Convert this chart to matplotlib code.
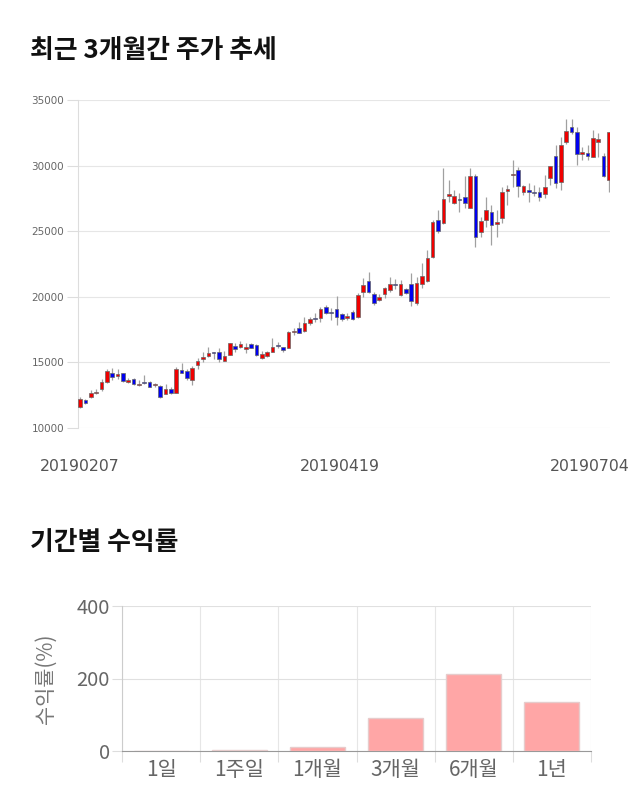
import matplotlib
matplotlib.use('Agg')
import matplotlib.pyplot as plt
import numpy as np

plt.rcParams['font.family'] = ['Noto Sans CJK KR', 'DejaVu Sans']

# ---- candlestick data (KRW) ----
opens = [11620, 12130, 12390, 12670, 12950, 13510, 14220, 13960, 14170, 13480,
         13740, 13260, 13530, 13480, 13260, 13220, 12590, 12970, 12650, 14420,
         14350, 13660, 14800, 15260, 15490, 15820, 15770, 15130, 15560, 16250,
         16150, 16000, 16380, 16330, 15360, 15510, 15770, 16330, 16150, 16080,
         17320, 17600, 17420, 17980, 18410, 18410, 19250, 18820, 19050, 18670,
         18360, 18820, 18440, 20340, 21200, 20190, 19760, 20190, 20520, 20950,
         20140, 20600, 20980, 19550, 20980, 21230, 23060, 25850, 25600, 27710,
         27170, 27460, 27630, 26790, 29230, 24960, 25850, 26490, 25530, 25980,
         28090, 29300, 29670, 28010, 28140, 28010, 27970, 27810, 29080, 30760,
         28730, 31820, 32920, 32540, 30860, 30940, 30630, 31820, 30730, 28900]
closes = [12210, 11930, 12650, 12700, 13510, 14370, 13910, 14090, 13610, 13660,
          13350, 13380, 13410, 13150, 13290, 12340, 12970, 12650, 14470, 14220,
          13790, 14550, 15130, 15390, 15740, 15690, 15240, 15490, 16460, 16000,
          16380, 16170, 16120, 15560, 15620, 15770, 16150, 16270, 15950, 17290,
          17360, 17260, 17980, 18290, 18330, 19050, 18790, 18740, 18440, 18290,
          18540, 18310, 20140, 20900, 20390, 19550, 20010, 20650, 20950, 20900,
          20980, 20310, 19700, 21080, 21610, 22980, 25720, 25040, 27430, 27840,
          27680, 27410, 27170, 29230, 24540, 25780, 26620, 25470, 25720, 28010,
          28190, 29350, 28450, 28450, 28010, 27910, 27580, 28390, 29970, 28650,
          31570, 32640, 32580, 30860, 31010, 30730, 32130, 32010, 29230, 32580]
highs = [12360, 12190, 12900, 12950, 13710, 14470, 14550, 14470, 14220, 13830,
         13810, 13660, 14040, 13560, 13450, 13280, 13350, 13100, 14670, 14930,
         14500, 14730, 15310, 15820, 16200, 15830, 16080, 15870, 16480, 16500,
         16650, 16460, 16460, 16400, 15870, 15870, 16840, 16530, 16200, 17370,
         17600, 18100, 18480, 18480, 18740, 19250, 19380, 19150, 20080, 18740,
         18740, 18990, 20290, 21460, 21910, 20370, 20210, 20750, 21530, 21330,
         21280, 20670, 21790, 21490, 22550, 23570, 25850, 26620, 29800, 28900,
         28140, 27890, 29210, 29800, 29340, 26110, 27580, 27000, 26620, 28390,
         28520, 30430, 29870, 28520, 28700, 28520, 28390, 29280, 29970, 31570,
         32200, 33520, 33520, 32970, 31440, 31570, 32710, 32460, 30940, 32580]
lows = [11520, 11830, 12260, 12570, 12840, 13410, 13660, 13710, 13530, 13450,
        13280, 13200, 13350, 13100, 13150, 12310, 12570, 12570, 12650, 14170,
        13660, 13280, 14470, 15050, 15440, 15250, 15050, 15110, 15540, 15820,
        16080, 15740, 16080, 15490, 15240, 15440, 15770, 16080, 15770, 16080,
        17090, 17220, 17340, 17850, 18080, 18100, 18690, 18230, 17850, 18130,
        18230, 18230, 18360, 20010, 20270, 19380, 19680, 19900, 20390, 20570,
        20060, 20180, 19320, 19380, 20690, 21150, 22920, 24890, 25550, 27250,
        27070, 26440, 26750, 26770, 23770, 24540, 25340, 23950, 24580, 25630,
        27000, 28390, 27580, 27760, 27250, 27680, 27330, 27510, 28520, 28270,
        28140, 31650, 32410, 30050, 30430, 30430, 30630, 30630, 29150, 28010]
date_labels = ['20190207', '20190419', '20190704']
date_label_pos = [0, 48.6, 95.4]
price_ticks = [10000, 15000, 20000, 25000, 30000, 35000]

# ---- period returns (%) ----
periods = ['1일', '1주일', '1개월', '3개월', '6개월', '1년']
returns = [0.0, 1.5, 11.0, 89.7, 211.4, 135.5]

fig = plt.figure(figsize=(6.4, 8.1), dpi=100)

# ---------- titles ----------
fig.text(30/640, 1-50/810, '최근 3개월간 주가 추세', fontsize=18.6, fontweight='bold',
         va='center', ha='left', color='#111111')
fig.text(30/640, 1-543/810, '기간별 수익률', fontsize=18.6, fontweight='bold',
         va='center', ha='left', color='#111111')

# ---------- candlestick ----------
ax1 = fig.add_axes([78/640, 1-428/810, 532/640, 328/810])
o = np.array(opens, float); c = np.array(closes, float)
h = np.maximum(np.array(highs, float), np.maximum(o, c))
l = np.minimum(np.array(lows, float), np.minimum(o, c))
x = np.arange(len(o))
up = c >= o
ax1.vlines(x, l, h, color='#a0a0a0', linewidth=0.9, zorder=2)
bottom = np.minimum(o, c)
height = np.maximum(np.abs(c - o), 70)
colors = np.where(up, '#f00000', '#0000f0')
ax1.bar(x, height, bottom=bottom, width=0.68, color=colors,
        edgecolor='#666666', linewidth=0.5, zorder=3)
ax1.set_xlim(-0.4, 99.2)
ax1.set_ylim(10000, 35000)
ax1.set_yticks(price_ticks)
ax1.set_yticklabels([str(t) for t in price_ticks], fontsize=7.5, color='#666666',
                    family=['DejaVu Sans'])
ax1.tick_params(axis='y', length=8, color='#dddddd', width=0.8, pad=2)
ax1.set_xticks(date_label_pos)
ax1.set_xticklabels(date_labels, fontsize=11.3, color='#555555', family=['DejaVu Sans'])
ax1.tick_params(axis='x', length=0, pad=22)
ax1.grid(axis='y', color='#e6e6e6', linewidth=0.8, zorder=0)
for s in ['top', 'right', 'bottom']:
    ax1.spines[s].set_visible(False)
ax1.spines['left'].set_color('#dddddd')
ax1.spines['left'].set_linewidth(0.8)
ax1.set_axisbelow(True)

# ---------- returns bar chart ----------
ax2 = fig.add_axes([122.4/640, 1-751/810, 468.2/640, 145/810])
xb = np.arange(len(periods))
ax2.bar(xb, returns, width=0.7, color='#ffa6a6', edgecolor='#e6cccc', linewidth=1, zorder=3)
ax2.set_xlim(-0.5, len(periods) - 0.5)
ax2.set_ylim(0, 400)
ax2.set_yticks([0, 200, 400])
ax2.set_yticklabels(['0', '200', '400'], fontsize=14.5, color='#666666')
ax2.tick_params(axis='y', length=7, color='#dddddd', pad=2)
ax2.set_xticks(xb)
ax2.set_xticklabels(periods, fontsize=15, color='#666666')
ax2.tick_params(axis='x', which='major', length=0, pad=6)
ax2.set_xticks(np.arange(len(periods) + 1) - 0.5, minor=True)
ax2.tick_params(axis='x', which='minor', length=8, color='#dddddd', width=0.8)
ax2.grid(axis='y', color='#e0e0e0', linewidth=0.8, zorder=0)
ax2.grid(axis='x', which='minor', color='#e6e6e6', linewidth=0.8, zorder=0)
ax2.set_ylabel('수익률(%)', fontsize=15, color='#777777', labelpad=14)
for s in ['top', 'right']:
    ax2.spines[s].set_visible(False)
ax2.spines['left'].set_color('#cccccc')
ax2.spines['bottom'].set_color('#999999')
ax2.set_axisbelow(True)

fig.savefig('out.png', dpi=100)
